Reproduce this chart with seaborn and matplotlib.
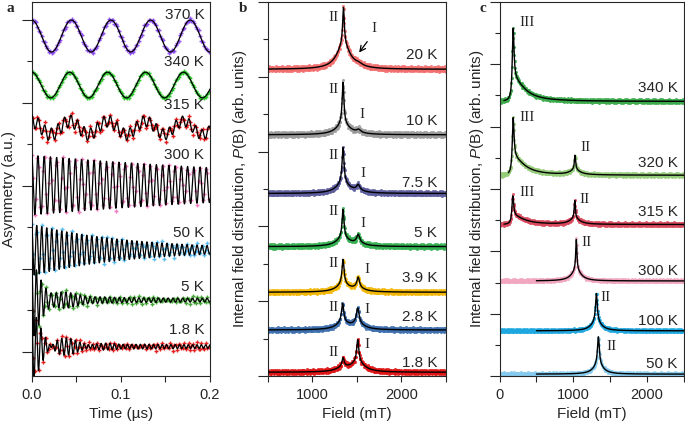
import numpy as np
import matplotlib
matplotlib.use("Agg")
import matplotlib.pyplot as plt
import seaborn as sns
from matplotlib.ticker import MultipleLocator, NullFormatter

# ---------------- DATA ----------------
# panel a: muon asymmetry, each trace = offset + up to 3 damped cosines
a_labels = ["370 K", "340 K", "315 K", "300 K", "50 K", "5 K", "1.8 K"]
a_colors = ["#9150f0", "#2ec82e", "#e41a1a", "#f27cbf", "#5cbef2", "#47a83a", "#e32222"]
a_offset = [7.61, 6.43, 5.40, 4.02, 2.46, 1.25, 0.13]
a_amp1 = [0.385, 0.31, 0.16, 0.72, 0.62, 0.55, 0.45]
a_freq1 = [22.5, 23.5, 23.5, 143.0, 178.0, 183.0, 182.0]      # MHz
a_rate1 = [0.0, 0.0, 0.0, 2.7, 9.0, 45.0, 40.0]              # 1/us
a_amp2 = [0.0, 0.0, 0.16, 0.0, 0.0, 0.35, 0.40]
a_freq2 = [0.0, 0.0, 136.0, 0.0, 0.0, 205.0, 205.0]
a_rate2 = [0.0, 0.0, 1.5, 0.0, 0.0, 55.0, 50.0]
a_amp3 = [0.0, 0.0, 0.0, 0.0, 0.0, 0.08, 0.08]
a_freq3 = [0.0, 0.0, 0.0, 0.0, 0.0, 183.0, 205.0]
a_rate3 = [0.0, 0.0, 0.0, 0.0, 0.0, 3.0, 3.0]
a_scatter = [0.05, 0.03, 0.09, 0.08, 0.07, 0.06, 0.07]

# panel b: field distributions, peaks II and I
b_labels = ["20 K", "10 K", "7.5 K", "5 K", "3.9 K", "2.8 K", "1.8 K"]
b_colors = ["#f26d6d", "#9a9a9a", "#5d5d9e", "#33b050", "#f2b705", "#3d6fae", "#e01414"]
b_base = [8.20, 6.45, 4.88, 3.46, 2.24, 1.23, 0.10]
b_II_field = [1350, 1345, 1345, 1345, 1345, 1340, 1345]
b_II_height = [1.65, 1.40, 1.22, 0.98, 0.86, 0.68, 0.33]
b_II_width = [11, 12, 13, 13, 14, 15, 14]
b_I_field = [1520, 1520, 1515, 1515, 1515, 1510, 1510]
b_I_height = [0.06, 0.09, 0.18, 0.28, 0.36, 0.55, 0.85]
b_I_width = [40, 25, 22, 20, 18, 18, 14]
b_tail_frac = [0.40, 0.20, 0.22, 0.22, 0.22, 0.25, 0.30]
b_tail_width = [90, 90, 90, 90, 90, 90, 90]
b_scatter = [0.08, 0.08, 0.07, 0.07, 0.07, 0.07, 0.07]

# panel c: field distributions, peaks III and II
c_labels = ["340 K", "320 K", "315 K", "300 K", "100 K", "50 K"]
c_colors = ["#3aaa4a", "#95cc7a", "#d9485c", "#f2a6bf", "#1fa8e0", "#86cbee"]
c_base = [8.81, 6.44, 4.86, 3.05, 1.45, 0.06]
c_III_field = [185, 185, 180, 180, 180, 180]
c_III_height = [2.35, 1.85, 0.92, 0.0, 0.0, 0.0]
c_II_field = [1030, 1023, 1020, 1041, 1313, 1340]
c_II_height = [0.0, 0.62, 0.76, 1.33, 1.20, 1.20]
c_II_width = [10, 10, 9, 10, 14, 15]
c_fit_start = [60, 120, 60, 500, 500, 500]
c_scatter = [0.07, 0.07, 0.07, 0.06, 0.06, 0.06]

scatter_pattern = np.array([0.35, -0.6, 0.15, 0.9, -0.25, -0.8, 0.5, 0.05, -0.45,
                            0.7, -0.1, 0.25, -0.7, 0.55, -0.3, 0.0, 0.8, -0.5, 0.2])


def lorentz(x, x0, w):
    return w ** 2 / (w ** 2 + (x - x0) ** 2)


def asym(t, i):
    y = np.full_like(t, a_offset[i])
    for amp, f, r in [(a_amp1[i], a_freq1[i], a_rate1[i]),
                      (a_amp2[i], a_freq2[i], a_rate2[i]),
                      (a_amp3[i], a_freq3[i], a_rate3[i])]:
        y += amp * np.cos(2 * np.pi * f * t) * np.exp(-r * t)
    return y


def pb(B, i):
    fr = b_tail_frac[i]
    y = b_base[i] + b_II_height[i] * ((1 - fr) * lorentz(B, b_II_field[i], b_II_width[i])
                                      + fr * lorentz(B, b_II_field[i], b_tail_width[i]))
    y += b_I_height[i] * ((1 - fr) * lorentz(B, b_I_field[i], b_I_width[i])
                          + fr * lorentz(B, b_I_field[i], b_tail_width[i]))
    return y


def pc(B, i):
    right = 0.7 * lorentz(B, c_III_field[i], 14) + 0.3 * lorentz(B, c_III_field[i], 180)
    left = lorentz(B, c_III_field[i], 14)
    y = c_base[i] + c_III_height[i] * np.where(B < c_III_field[i], left, right)
    y += c_II_height[i] * (0.75 * lorentz(B, c_II_field[i], c_II_width[i])
                           + 0.25 * lorentz(B, c_II_field[i], 80))
    return y


def noise(n, level, shift):
    return np.roll(np.resize(scatter_pattern, n), shift) * level


# ---------------- STYLE ----------------
sns.set_style("ticks")
plt.rcParams['font.family'] = ['Liberation Sans', 'DejaVu Sans']
plt.rcParams['mathtext.fontset'] = 'custom'
plt.rcParams['mathtext.it'] = 'Liberation Sans:italic'
plt.rcParams['mathtext.rm'] = 'Liberation Sans'
plt.rcParams['axes.linewidth'] = 0.8
SERIF = ['Liberation Serif', 'DejaVu Serif']

fig = plt.figure(figsize=(6.85, 4.33), dpi=100)
ax_a = fig.add_axes([0.0463, 0.1316, 0.2603, 0.8638])
ax_b = fig.add_axes([0.3908, 0.1316, 0.2603, 0.8638])
ax_c = fig.add_axes([0.7292, 0.1316, 0.2693, 0.8638])

# ---------------- PANEL a ----------------
t_fit = np.linspace(0, 0.2, 3000)
t_dat = np.arange(0, 0.2, 0.0016)
a_label_y = [8.12, 6.99, 5.95, 4.75, 2.87, 1.57, 0.53]
for i, lab in enumerate(a_labels):
    y_dat = asym(t_dat, i) + noise(len(t_dat), a_scatter[i], 3 * i)
    sns.scatterplot(x=t_dat, y=y_dat, ax=ax_a, marker='+', s=12, color=a_colors[i],
                    linewidth=1.0, zorder=2, legend=False)
    sns.lineplot(x=t_fit, y=asym(t_fit, i), ax=ax_a, color='k', lw=0.9,
                 estimator=None, sort=False, zorder=3)
    ax_a.text(0.1936, a_label_y[i], lab, ha='right', va='center', fontsize=11)

ax_a.set_xlim(0, 0.2)
ax_a.set_ylim(-0.578, 8.43)
ax_a.xaxis.set_minor_locator(MultipleLocator(0.05))
ax_a.set_xticks([0.0, 0.1, 0.2])
ax_a.set_xticklabels(["0.0", "0.1", "0.2"])
ax_a.yaxis.set_major_locator(MultipleLocator(2))
ax_a.yaxis.set_minor_locator(MultipleLocator(1))
ax_a.set_xlabel("Time (\u00b5s)", fontsize=11)
ax_a.set_ylabel("Asymmetry (a.u.)", fontsize=11)
ax_a.yaxis.set_label_coords(-0.088, 0.5)

# ---------------- PANEL b ----------------
B_fit_b = np.linspace(500, 2500, 2000)
B_dat_b = np.arange(500, 2500, 4.0)
b_label_y = [8.59, 6.82, 5.17, 3.82, 2.63, 1.59, 0.34]
b_II_pos = [(1243, 9.58), (1243, 7.67), (1243, 5.89), (1243, 4.40), (1243, 3.02), (1243, 1.83), (1243, 0.64)]
b_I_pos = [(1690, 9.28), (1562, 7.00), (1573, 5.41), (1573, 4.08), (1617, 2.84), (1617, 1.78), (1617, 0.85)]
for i, lab in enumerate(b_labels):
    y_dat = pb(B_dat_b, i) + noise(len(B_dat_b), b_scatter[i], 5 * i)
    sns.scatterplot(x=B_dat_b, y=y_dat, ax=ax_b, s=5, color=b_colors[i], linewidth=0,
                    alpha=0.85, zorder=2, legend=False)
    sns.lineplot(x=B_fit_b, y=pb(B_fit_b, i), ax=ax_b, color='k', lw=1.0,
                 estimator=None, sort=False, zorder=3)
    ax_b.text(2400, b_label_y[i], lab, ha='right', va='center', fontsize=11)
    ax_b.text(*b_II_pos[i], "II", ha='center', va='center', fontsize=11, family=SERIF)
    ax_b.text(*b_I_pos[i], "I", ha='center', va='center', fontsize=11, family=SERIF)
ax_b.annotate("", xy=(1507, 8.59), xytext=(1635, 9.0),
              arrowprops=dict(arrowstyle='->', color='k', lw=0.9))

ax_b.set_xlim(500, 2500)
ax_b.set_ylim(0, 10)
ax_b.xaxis.set_major_locator(MultipleLocator(1000))
ax_b.xaxis.set_minor_locator(MultipleLocator(500))
ax_b.yaxis.set_major_locator(MultipleLocator(2))
ax_b.yaxis.set_minor_locator(MultipleLocator(1))
ax_b.set_xlabel("Field (mT)", fontsize=11)
ax_b.set_ylabel(r"Internal field distribution, $\mathit{P}$(B) (arb. units)", fontsize=11)
ax_b.yaxis.set_label_coords(-0.105, 0.5)

# ---------------- PANEL c ----------------
B_dat_c = np.arange(0, 2500, 5.0)
c_label_y = [9.25, 6.85, 5.25, 3.36, 1.76, 0.38]
c_III_pos = [(374, 11.33), (374, 8.29), (374, 5.89), None, None, None]
c_II_pos = [None, (1163, 7.33), (1150, 5.66), (1177, 4.29), (1435, 2.53), (1517, 0.96)]
for i, lab in enumerate(c_labels):
    y_dat = pc(B_dat_c, i) + noise(len(B_dat_c), c_scatter[i], 7 * i)
    sns.scatterplot(x=B_dat_c, y=y_dat, ax=ax_c, s=5, color=c_colors[i], linewidth=0,
                    alpha=0.85, zorder=2, legend=False)
    B_fit = np.linspace(c_fit_start[i], 2500, 2500)
    sns.lineplot(x=B_fit, y=pc(B_fit, i), ax=ax_c, color='k', lw=1.0,
                 estimator=None, sort=False, zorder=3)
    ax_c.text(2415, c_label_y[i], lab, ha='right', va='center', fontsize=11)
    if c_III_pos[i]:
        ax_c.text(*c_III_pos[i], "III", ha='center', va='center', fontsize=11, family=SERIF)
    if c_II_pos[i]:
        ax_c.text(*c_II_pos[i], "II", ha='center', va='center', fontsize=11, family=SERIF)

ax_c.set_xlim(0, 2500)
ax_c.set_ylim(0, 12)
ax_c.xaxis.set_major_locator(MultipleLocator(1000))
ax_c.xaxis.set_minor_locator(MultipleLocator(500))
ax_c.yaxis.set_major_locator(MultipleLocator(2))
ax_c.yaxis.set_minor_locator(MultipleLocator(1))
ax_c.set_xlabel("Field (mT)", fontsize=11)
ax_c.set_ylabel(r"Internal field distribution, $\mathit{P}$(B) (arb. units)", fontsize=11)
ax_c.yaxis.set_label_coords(-0.073, 0.5)

# ---------------- common axis styling ----------------
for ax, letter, lx in [(ax_a, "a", 0.009), (ax_b, "b", 0.349), (ax_c, "c", 0.700)]:
    ax.yaxis.set_major_formatter(NullFormatter())
    ax.yaxis.set_minor_formatter(NullFormatter())
    ax.tick_params(axis='y', which='major', length=7, width=0.8, direction='out')
    ax.tick_params(axis='y', which='minor', length=3.5, width=0.8, direction='out')
    ax.tick_params(axis='x', which='both', length=4.5, width=0.8, direction='out',
                   labelsize=10.5, pad=4)
    for s in ax.spines.values():
        s.set_visible(True)
        s.set_linewidth(0.8)
    fig.text(lx, 0.98, letter, fontsize=11, fontweight='bold', family=SERIF,
             ha='left', va='center')

fig.savefig("out.png", dpi=100)
